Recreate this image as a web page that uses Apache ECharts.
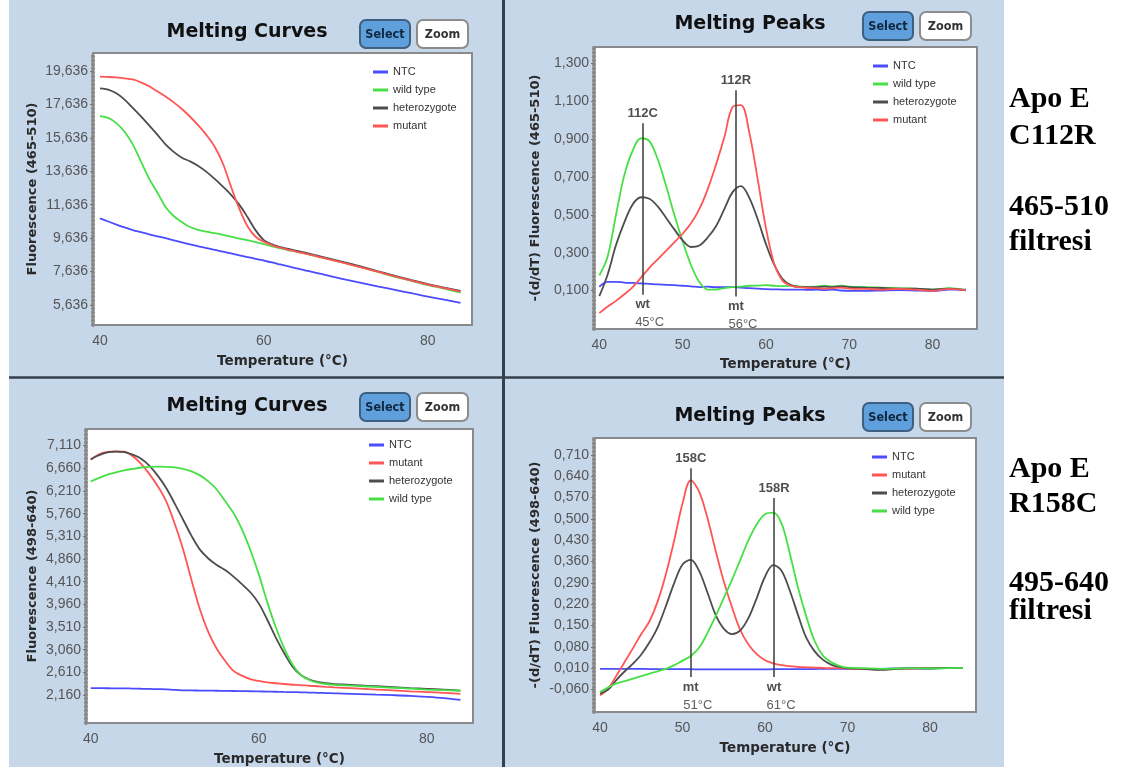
<!DOCTYPE html>
<html><head><meta charset="utf-8">
<script src="https://cdn.jsdelivr.net/npm/echarts@6/dist/echarts.min.js"></script>
<style>html,body{margin:0;padding:0;background:#fff}#c{width:1134px;height:767px}</style>
</head><body><div id="c"></div>
<script>
// ---------- shared temperature grid (°C) ----------
const temps = [40,41,42,43,44,45,46,47,48,49,50,51,52,53,54,55,56,57,58,59,60,61,62,63,64,65,66,67,68,69,70,72,74,76,78,80,82,84];

// ---------- Panel 1: Melting Curves, 465-510 ----------
const curves465_NTC = [10820,10630,10450,10280,10120,9990,9860,9740,9630,9500,9380,9260,9150,9040,8930,8830,8720,8610,8500,8400,8290,8180,8060,7940,7820,7710,7600,7490,7380,7260,7150,6950,6740,6540,6340,6130,5950,5760];
const curves465_wild = [16940,16830,16520,16000,15250,14230,13200,12370,11500,10960,10600,10300,10130,10020,9930,9830,9720,9610,9510,9400,9280,9150,9030,8910,8830,8720,8600,8480,8370,8250,8120,7870,7600,7320,7080,6830,6620,6380];
const curves465_het = [18600,18520,18300,17920,17430,16920,16380,15830,15250,14800,14450,14230,13950,13600,13180,12720,12230,11640,10900,10100,9520,9260,9100,8990,8880,8770,8650,8530,8410,8290,8170,7920,7650,7380,7130,6880,6680,6480];
const curves465_mut = [19300,19280,19250,19200,19130,18960,18720,18420,18110,17760,17360,16900,16380,15800,15100,14100,12700,11400,10350,9720,9420,9220,9060,8940,8820,8710,8600,8480,8360,8240,8120,7870,7610,7340,7100,6850,6650,6440];

// ---------- Panel 2: Melting Peaks, 465-510 ----------
const peaks465_NTC = [0.12,0.145,0.146,0.142,0.14,0.138,0.135,0.132,0.13,0.128,0.125,0.122,0.118,0.12,0.117,0.118,0.118,0.115,0.112,0.11,0.107,0.106,0.105,0.104,0.105,0.103,0.104,0.102,0.104,0.1,0.098,0.098,0.1,0.102,0.1,0.098,0.104,0.104];
const peaks465_wild = [0.18,0.28,0.5,0.71,0.84,0.905,0.89,0.795,0.655,0.5,0.36,0.235,0.145,0.105,0.105,0.113,0.118,0.12,0.125,0.126,0.128,0.125,0.123,0.125,0.122,0.118,0.12,0.125,0.122,0.125,0.12,0.118,0.115,0.112,0.11,0.105,0.112,0.102];
const peaks465_het = [0.07,0.185,0.34,0.46,0.555,0.593,0.585,0.545,0.485,0.423,0.365,0.33,0.338,0.38,0.44,0.53,0.62,0.652,0.59,0.478,0.345,0.235,0.16,0.128,0.118,0.118,0.118,0.12,0.118,0.122,0.118,0.115,0.113,0.11,0.11,0.105,0.11,0.1];
const peaks465_mut = [-0.02,0.015,0.045,0.08,0.118,0.168,0.22,0.265,0.31,0.355,0.4,0.455,0.53,0.635,0.765,0.91,1.07,1.08,0.935,0.69,0.43,0.24,0.152,0.125,0.118,0.113,0.112,0.11,0.112,0.115,0.11,0.108,0.105,0.108,0.104,0.098,0.108,0.1];

// ---------- Panel 3: Melting Curves, 498-640 ----------
const curves640_NTC = [2300,2298,2296,2294,2292,2290,2286,2282,2278,2274,2262,2255,2252,2250,2248,2246,2244,2241,2238,2236,2233,2230,2226,2222,2219,2215,2210,2205,2200,2195,2190,2180,2168,2158,2145,2125,2100,2065];
const curves640_mut = [6830,6940,6985,6995,6990,6900,6750,6545,6300,6000,5560,5050,4440,3860,3410,3080,2840,2640,2545,2476,2440,2410,2395,2380,2365,2358,2345,2335,2322,2312,2305,2288,2270,2253,2235,2220,2205,2185];
const curves640_het = [6840,6920,6975,6990,6980,6930,6850,6710,6510,6266,5960,5640,5320,5047,4870,4740,4640,4510,4360,4200,3980,3660,3310,3000,2730,2560,2470,2420,2395,2377,2370,2352,2335,2318,2300,2285,2270,2250];
const curves640_wild = [6400,6470,6535,6580,6620,6650,6676,6690,6695,6690,6678,6650,6600,6520,6400,6240,6010,5772,5450,5040,4560,4010,3520,3100,2770,2560,2460,2405,2380,2364,2355,2338,2322,2305,2288,2270,2258,2246];

// ---------- Panel 4: Melting Peaks, 498-640 ----------
const peaks640_NTC = [0.008,0.008,0.008,0.008,0.008,0.008,0.007,0.007,0.007,0.007,0.007,0.007,0.006,0.006,0.006,0.006,0.006,0.006,0.006,0.006,0.006,0.007,0.007,0.007,0.007,0.007,0.007,0.008,0.008,0.008,0.008,0.008,0.008,0.009,0.009,0.009,0.01,0.01];
const peaks640_mut = [-0.079,-0.056,-0.014,0.031,0.076,0.122,0.164,0.23,0.32,0.43,0.55,0.626,0.59,0.505,0.397,0.295,0.21,0.135,0.088,0.056,0.036,0.026,0.02,0.017,0.014,0.013,0.012,0.011,0.01,0.01,0.009,0.007,0.006,0.008,0.009,0.01,0.01,0.011];
const peaks640_het = [-0.073,-0.06,-0.028,0.0,0.025,0.055,0.095,0.145,0.215,0.29,0.35,0.365,0.33,0.26,0.186,0.14,0.122,0.134,0.175,0.24,0.31,0.348,0.33,0.265,0.185,0.11,0.066,0.038,0.022,0.014,0.01,0.008,0.005,0.008,0.01,0.009,0.011,0.01];
const peaks640_wild = [-0.068,-0.053,-0.04,-0.032,-0.024,-0.016,-0.008,0.0,0.008,0.02,0.035,0.05,0.077,0.124,0.18,0.24,0.3,0.365,0.43,0.482,0.515,0.52,0.485,0.387,0.275,0.18,0.1,0.052,0.03,0.018,0.012,0.01,0.008,0.009,0.01,0.009,0.01,0.011];

// ---------- peak annotations ----------
const ann465_temp = [45.2, 56.4];
const ann465_top = [0.985, 1.159];
const ann465_bottom = [0.078, 0.068];
const ann465_name = ['112C', '112R'];
const ann465_geno = ['wt', 'mt'];
const ann465_tm = ['45°C', '56°C'];

const ann640_temp = [51.0, 61.1];
const ann640_top = [0.666, 0.568];
const ann640_bottom = [-0.019, -0.019];
const ann640_name = ['158C', '158R'];
const ann640_geno = ['mt', 'wt'];
const ann640_tm = ['51°C', '61°C'];

// ---------- ticks / labels ----------
const xTicksCurves = [40, 60, 80];
const xTicksPeaks = [40, 50, 60, 70, 80];
const yTicks465Curves = [5636,7636,9636,11636,13636,15636,17636,19636];
const yTicks465Peaks = [0.1,0.3,0.5,0.7,0.9,1.1,1.3];
const yTicks640Curves = [2160,2610,3060,3510,3960,4410,4860,5310,5760,6210,6660,7110];
const yTicks640Peaks = [-0.06,0.01,0.08,0.15,0.22,0.29,0.36,0.43,0.5,0.57,0.64,0.71];

const legendOrder465 = ['NTC','wild type','heterozygote','mutant'];
const legendOrder640 = ['NTC','mutant','heterozygote','wild type'];
const sideText465 = ['Apo E','C112R','465-510','filtresi'];
const sideText640 = ['Apo E','R158C','495-640','filtresi'];

// ---------- styling ----------
const COLORS = {'NTC':'#4b4bff','wild type':'#46e046','heterozygote':'#4d4d4d','mutant':'#ff5555'};
const PANEL_BG = '#c6d7ea';
const thousands = v => String(Math.round(v)).replace(/\B(?=(\d{3})+(?!\d))/g, ',');
const decComma = v => v.toFixed(3).replace('.', ',');

function xAx(gi, min, max, ticks, gap) {
  return {type:'value', gridIndex:gi, min, max,
    name:'Temperature (°C)', nameLocation:'middle', nameGap:gap,
    nameTextStyle:{fontFamily:'DejaVu Sans', fontWeight:'bold', fontSize:13.5, color:'#2a2a2a'},
    axisLine:{show:false}, axisTick:{show:false},
    axisLabel:{customValues:ticks, margin:9, fontSize:14, color:'#555', fontFamily:'Liberation Sans'},
    splitLine:{show:false}};
}
function yAx(gi, min, max, ticks, fmt, name, gap) {
  return {type:'value', gridIndex:gi, min, max,
    name, nameLocation:'middle', nameGap:gap,
    nameTextStyle:{fontFamily:'DejaVu Sans', fontWeight:'bold', fontSize:13, color:'#2a2a2a'},
    axisLine:{show:true, lineStyle:{color:'#8a8a8a', width:4, type:[1,3]}},
    axisTick:{show:true, customValues:ticks, length:3, lineStyle:{color:'#777'}},
    axisLabel:{customValues:ticks, formatter:fmt, margin:5, fontSize:14, color:'#555', fontFamily:'Liberation Sans'},
    splitLine:{show:false}};
}
function lineSeries(name, vals, gi) {
  return {type:'line', name, xAxisIndex:gi, yAxisIndex:gi, showSymbol:false, smooth:0.35,
    color:COLORS[name], lineStyle:{width:1.8, color:COLORS[name]},
    data: temps.map((t,i)=>[t, vals[i]])};
}
function annSeries(gi, temp, top, bottom, names, geno, tm) {
  const out = [];
  out.push({type:'scatter', xAxisIndex:gi, yAxisIndex:gi, symbolSize:0.1, silent:true,
    itemStyle:{color:'transparent'},
    label:{show:true, position:'top', distance:3, fontFamily:'Liberation Sans', fontWeight:'bold', fontSize:13, color:'#222',
      formatter: p => names[p.dataIndex]},
    data: temp.map((t,i)=>[t, top[i]]),
    markLine:{silent:true, symbol:['none','none'], label:{show:false},
      lineStyle:{color:'#3a3a3a', width:1.5, type:'solid'},
      data: temp.map((t,i)=>[{coord:[t, bottom[i]]},{coord:[t, top[i]]}])}
  });
  out.push({type:'scatter', xAxisIndex:gi, yAxisIndex:gi, symbolSize:0.1, silent:true,
    itemStyle:{color:'transparent'},
    label:{show:true, position:'bottom', distance:1, fontFamily:'Liberation Sans', fontSize:13, color:'#222',
      formatter: p => '{g|' + geno[p.dataIndex] + '}\n{t|' + tm[p.dataIndex] + '}',
      rich:{g:{fontWeight:'bold', fontSize:13, lineHeight:18, color:'#222'},
            t:{fontSize:13, lineHeight:18, color:'#333', padding:[0,0,0,14]}}},
    data: temp.map((t,i)=>[t, bottom[i]])
  });
  return out;
}
function legendAt(order, left, top) {
  return {data:order, left, top, orient:'vertical', icon:'rect', itemWidth:15, itemHeight:3,
    itemGap:6, padding:0, selectedMode:false,
    textStyle:{fontSize:11, color:'#333', fontFamily:'Liberation Sans', lineHeight:12}};
}
function button(label, x, y, w, h, fill, stroke, tcolor) {
  return {type:'group', x, y, children:[
    {type:'rect', shape:{x:0, y:0, width:w, height:h, r:6}, style:{fill, stroke, lineWidth:2}},
    {type:'text', x:w/2, y:h/2+1, style:{text:label, fill:tcolor, align:'center', verticalAlign:'middle',
      fontFamily:'DejaVu Sans Condensed', fontWeight:'bold', fontSize:12.5}}
  ]};
}
function panelHeader(title, cx, ty, bx, by) {
  return [
    {type:'text', x:cx, y:ty, style:{text:title, fill:'#111', align:'center', verticalAlign:'middle',
      fontFamily:'DejaVu Sans', fontWeight:'bold', fontSize:19}},
    button('Select', bx, by, 50, 28, '#5e9fdc', '#3d5f80', '#10263c'),
    button('Zoom', bx+57, by, 51, 28, '#ffffff', '#8c8c8c', '#333')
  ];
}
function sideText(lines, ys) {
  return lines.map((t,i)=>({type:'text', x:1009, y:ys[i], style:{text:t, fill:'#000', align:'left', verticalAlign:'middle',
    fontFamily:'Liberation Serif', fontWeight:'bold', fontSize:30}}));
}

const gridStyle = {show:true, backgroundColor:'#ffffff', borderColor:'#8a8a8a', borderWidth:2};

const option = {
  animation:false,
  backgroundColor:'#ffffff',
  grid:[
    Object.assign({left:93, top:53, width:379, height:272}, gridStyle),
    Object.assign({left:594, top:47, width:383, height:282}, gridStyle),
    Object.assign({left:86, top:429, width:387, height:295}, gridStyle),
    Object.assign({left:594, top:438, width:382, height:274}, gridStyle)
  ],
  xAxis:[
    xAx(0, 39.15, 85.4, xTicksCurves, 29),
    xAx(1, 39.36, 85.33, xTicksPeaks, 28),
    xAx(2, 39.44, 85.5, xTicksCurves, 29),
    xAx(3, 39.27, 85.58, xTicksPeaks, 29)
  ],
  yAxis:[
    yAx(0, 4438, 20714, yTicks465Curves, thousands, 'Fluorescence (465-510)', 54),
    yAx(1, -0.1037, 1.3876, yTicks465Peaks, decComma, '-(d/dT) Fluorescence (465-510)', 52),
    yAx(2, 1606, 7440, yTicks640Curves, thousands, 'Fluorescence (498-640)', 47),
    yAx(3, -0.1336, 0.765, yTicks640Peaks, decComma, '-(d/dT) Fluorescence (498-640)', 52)
  ],
  legend:[
    legendAt(legendOrder465, 373, 66),
    legendAt(legendOrder465, 873, 60),
    legendAt(legendOrder640, 369, 439),
    legendAt(legendOrder640, 872, 451)
  ],
  series:[
    lineSeries('NTC', curves465_NTC, 0),
    lineSeries('wild type', curves465_wild, 0),
    lineSeries('heterozygote', curves465_het, 0),
    lineSeries('mutant', curves465_mut, 0),
    lineSeries('NTC', peaks465_NTC, 1),
    lineSeries('wild type', peaks465_wild, 1),
    lineSeries('heterozygote', peaks465_het, 1),
    lineSeries('mutant', peaks465_mut, 1),
    lineSeries('NTC', curves640_NTC, 2),
    lineSeries('mutant', curves640_mut, 2),
    lineSeries('heterozygote', curves640_het, 2),
    lineSeries('wild type', curves640_wild, 2),
    lineSeries('NTC', peaks640_NTC, 3),
    lineSeries('mutant', peaks640_mut, 3),
    lineSeries('heterozygote', peaks640_het, 3),
    lineSeries('wild type', peaks640_wild, 3),
    ...annSeries(1, ann465_temp, ann465_top, ann465_bottom, ann465_name, ann465_geno, ann465_tm),
    ...annSeries(3, ann640_temp, ann640_top, ann640_bottom, ann640_name, ann640_geno, ann640_tm)
  ],
  graphic:[
    {type:'rect', z:-100, shape:{x:9, y:0, width:494, height:378}, style:{fill:PANEL_BG}},
    {type:'rect', z:-100, shape:{x:504, y:0, width:500, height:378}, style:{fill:PANEL_BG}},
    {type:'rect', z:-100, shape:{x:9, y:378, width:494, height:389}, style:{fill:PANEL_BG}},
    {type:'rect', z:-100, shape:{x:504, y:378, width:500, height:389}, style:{fill:PANEL_BG}},
    {type:'line', z:100, shape:{x1:503.5, y1:0, x2:503.5, y2:767}, style:{stroke:'#34404c', lineWidth:3}},
    {type:'line', z:100, shape:{x1:9, y1:377.5, x2:1004, y2:377.5}, style:{stroke:'#34404c', lineWidth:2.5}},
    ...panelHeader('Melting Curves', 247, 32, 360, 20),
    ...panelHeader('Melting Peaks', 750, 24, 863, 12),
    ...panelHeader('Melting Curves', 247, 406, 360, 393),
    ...panelHeader('Melting Peaks', 750, 416, 863, 403),
    ...sideText(sideText465, [99, 136, 207, 242]),
    ...sideText(sideText640, [469, 504, 583, 611])
  ]
};

const chart = echarts.init(document.getElementById('c'), null, {renderer:'canvas', width:1134, height:767});
chart.setOption(option);
</script>
</body></html>
